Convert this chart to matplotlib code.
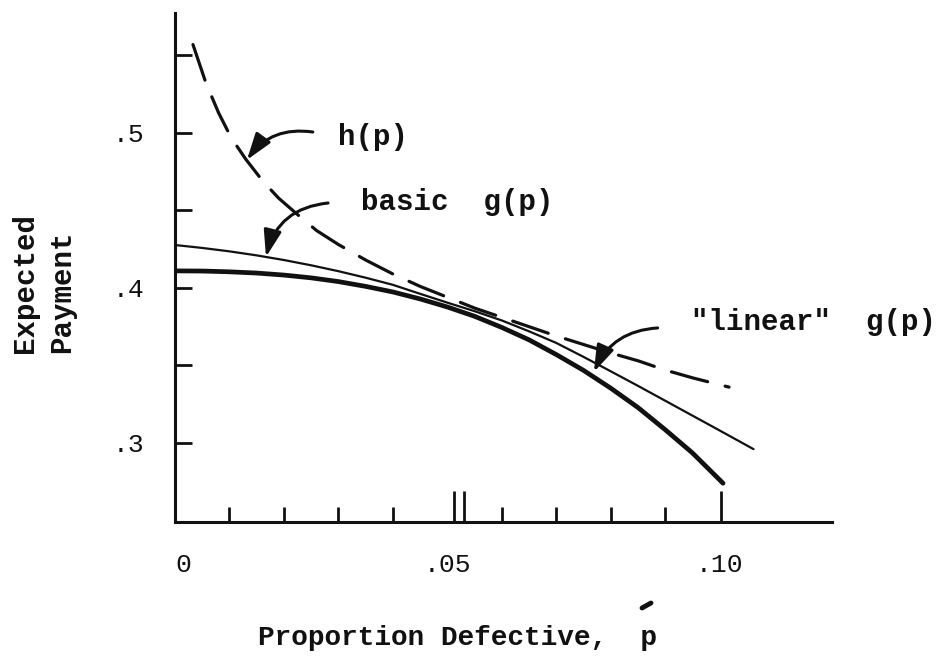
import matplotlib
matplotlib.use("Agg")
import matplotlib.pyplot as plt
from matplotlib.lines import Line2D
from matplotlib.transforms import blended_transform_factory, ScaledTranslation

plt.rcParams['font.family'] = ['Liberation Mono', 'DejaVu Sans Mono']
plt.rcParams['lines.scale_dashes'] = False

INK = '#111111'

# h(p): dashed curve
h_p = [0.0033, 0.0057, 0.0080, 0.0103, 0.0130, 0.0161, 0.0190, 0.0226, 0.0260,
       0.0300, 0.0350, 0.0400, 0.0450, 0.0500, 0.0550, 0.0600, 0.0650, 0.0700,
       0.0750, 0.0800, 0.0850, 0.0900, 0.0950, 0.1017]
h_val = [0.557, 0.532, 0.513, 0.497, 0.483, 0.469, 0.458, 0.447, 0.437,
         0.428, 0.418, 0.409, 0.401, 0.394, 0.387, 0.381, 0.375, 0.369,
         0.3635, 0.358, 0.353, 0.347, 0.342, 0.336]

# basic g(p): thin solid curve
basic_p = [0.0, 0.005, 0.010, 0.015, 0.020, 0.025, 0.030, 0.035, 0.040, 0.045,
           0.050, 0.055, 0.060, 0.065, 0.070, 0.075, 0.080, 0.085, 0.090, 0.095,
           0.100, 0.1062]
basic_val = [0.4277, 0.4258, 0.4236, 0.4210, 0.4180, 0.4146, 0.4108, 0.4066,
             0.4020, 0.3962, 0.3905, 0.3850, 0.3790, 0.3720, 0.3645, 0.3555,
             0.3462, 0.3368, 0.3272, 0.3176, 0.3080, 0.2960]

# "linear" g(p): heavy solid curve
lin_p = [0.0, 0.005, 0.010, 0.015, 0.020, 0.025, 0.030, 0.035, 0.040, 0.045,
         0.050, 0.055, 0.060, 0.065, 0.070, 0.075, 0.080, 0.085, 0.090, 0.095,
         0.1006]
lin_val = [0.4110, 0.4109, 0.4104, 0.4096, 0.4083, 0.4065, 0.4041, 0.4010,
           0.3974, 0.3929, 0.3877, 0.3817, 0.3745, 0.3665, 0.3570, 0.3468,
           0.3353, 0.3228, 0.3085, 0.2935, 0.2740]

x_labels = ['0', '.05', '.10']
x_label_pos = [0.0, 0.05, 0.10]
y_labels = ['.3', '.4', '.5']
y_label_pos = [0.3, 0.4, 0.5]

fig = plt.figure(figsize=(9.49, 6.58), dpi=100)
ax = fig.add_axes([0.1844, 0.2067, 0.6923, 0.7736])
ax.set_xlim(0, 0.1206)
ax.set_ylim(0.249, 0.5774)

for s in ['top', 'right']:
    ax.spines[s].set_visible(False)
for s in ['left', 'bottom']:
    ax.spines[s].set_linewidth(2.2)
    ax.spines[s].set_color(INK)

# curves
ax.plot(lin_p, lin_val, color=INK, lw=3.4, solid_capstyle='round')
ax.plot(basic_p, basic_val, color=INK, lw=1.6, solid_capstyle='round')
ax.plot(h_p, h_val, color=INK, lw=2.3, dashes=(27, 13), dash_capstyle='round')

# y ticks
ax.set_yticks(y_label_pos)
ax.set_yticklabels(y_labels)
ax.set_yticks([0.35, 0.45, 0.55], minor=True)
ax.tick_params(axis='y', which='both', direction='in', length=12, width=2.0,
               color=INK, pad=22, labelsize=19, labelcolor=INK)

# x ticks: labels at 0, .05, .10, short marks every .01
ax.set_xticks(x_label_pos)
ax.set_xticklabels(x_labels)
ax.set_xticks([0.01, 0.02, 0.03, 0.04, 0.06, 0.07, 0.08, 0.09], minor=True)
ax.tick_params(axis='x', which='major', direction='in', length=0, pad=22,
               labelsize=19, labelcolor=INK)
ax.tick_params(axis='x', which='minor', direction='in', length=11, width=2.0,
               color=INK)
zero_lab = ax.get_xticklabels()[0]
zero_lab.set_transform(zero_lab.get_transform()
                       + ScaledTranslation(0.08, 0, fig.dpi_scale_trans))
tall = blended_transform_factory(ax.transData, ax.transAxes)
ax.vlines([0.0512, 0.0530, 0.1002], 0, 0.06, transform=tall, color=INK, lw=2.0)

# curve labels and pointers
txt = dict(fontsize=21, color=INK, fontweight='bold')
ax.text(0.0363, 0.4974, 'h(p)', ha='center', va='center', **txt)
ax.text(0.0341, 0.4555, 'basic  g(p)', ha='left', va='center', **txt)
ax.text(0.0947, 0.3780, '"linear"  g(p)', ha='left', va='center', **txt)

arrow = dict(arrowstyle='-|>,head_length=0.9,head_width=0.3', color=INK,
             lw=2.2, shrinkA=0, shrinkB=0, mutation_scale=18)
ax.annotate('', xy=(0.0132, 0.4826), xytext=(0.0253, 0.5006),
            arrowprops=dict(connectionstyle='arc3,rad=0.3', **arrow))
ax.annotate('', xy=(0.0167, 0.4200), xytext=(0.0281, 0.4548),
            arrowprops=dict(connectionstyle='arc3,rad=0.35', **arrow))
ax.annotate('', xy=(0.0769, 0.3458), xytext=(0.0886, 0.3742),
            arrowprops=dict(connectionstyle='arc3,rad=0.3', **arrow))

# axis titles
fig.text(25 / 949, 1 - 353 / 658, 'Expected', rotation=90, ha='center',
         va='bottom', fontsize=21, color=INK, fontweight='bold')
fig.text(62 / 949, 1 - 353 / 658, 'Payment', rotation=90, ha='center',
         va='bottom', fontsize=21, color=INK, fontweight='bold')
fig.text(458 / 949, 1 - 645 / 658, 'Proportion Defective,  p', ha='center',
         va='baseline', fontsize=20, color=INK, fontweight='bold')
fig.add_artist(Line2D([642 / 949, 651 / 949], [1 - 608 / 658, 1 - 603 / 658],
                      color=INK, lw=3.5, solid_capstyle='round'))

fig.savefig('out.png', dpi=100, facecolor='white')
